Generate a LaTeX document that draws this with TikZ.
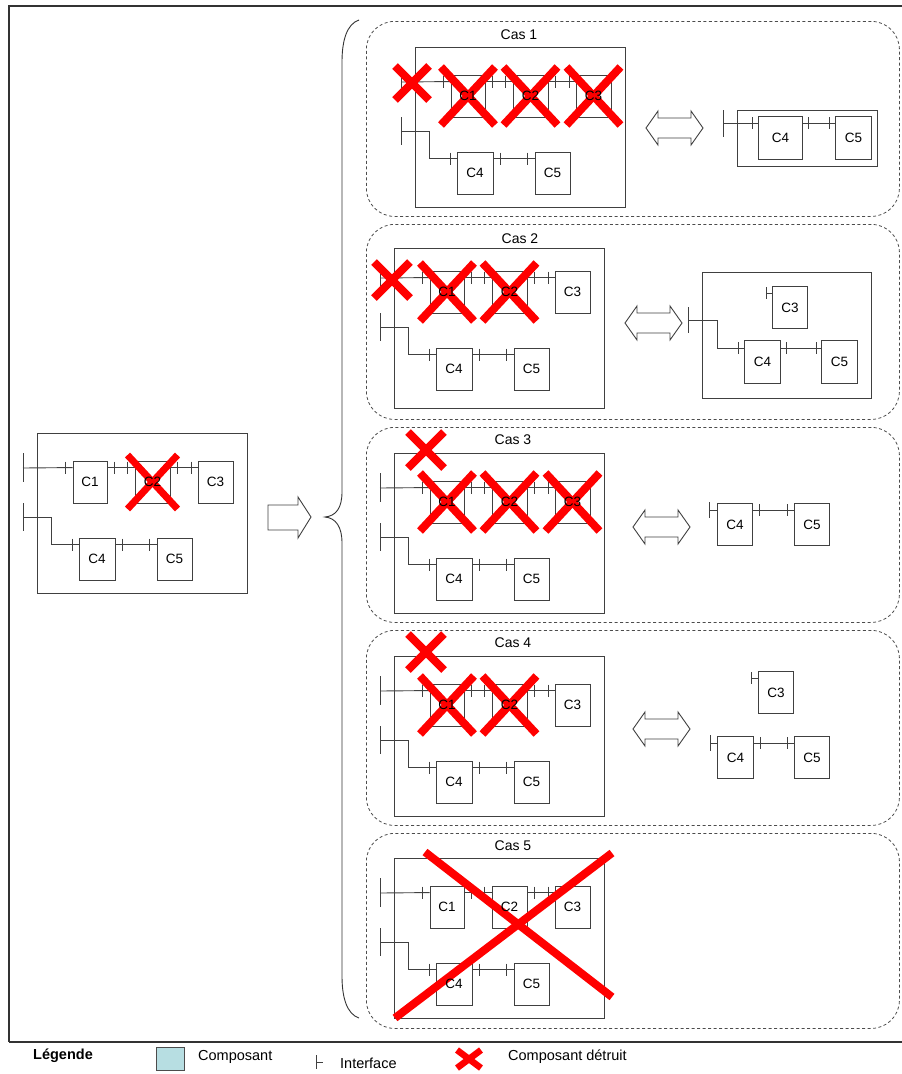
\documentclass[tikz,border=0pt]{standalone}
\usepackage{fontspec}
\setmainfont{Liberation Sans}
\pgfdeclarelayer{fg}
\pgfsetlayers{main,fg}
\definecolor{legcol}{HTML}{B7DEE2}
\definecolor{crossred}{HTML}{FF0000}
\tikzset{
  ln/.style={draw=black!75, line width=0.9pt},
  frame/.style={draw=black!75, line width=0.9pt, inner sep=0pt},
  comp/.style={draw=black!75, line width=0.9pt, inner sep=0pt, minimum height=42pt},
  txt/.style={inner sep=0pt, font=\fontsize{13.5}{16}\selectfont},
  castxt/.style={inner sep=0pt, font=\fontsize{14}{16}\selectfont},
  legtxt/.style={inner sep=0pt, anchor=west, font=\fontsize{14.5}{17}\selectfont},
  panel/.style={draw=black!70, line width=0.8pt, dash pattern=on 3pt off 2.5pt, rounded corners=28pt, inner sep=0pt, anchor=north west, minimum width=533pt, minimum height=195pt},
  redline/.style={draw=crossred, line width=#1},
  bigarrow/.style={draw=black!75, line width=0.9pt, fill=white}
}
\newcommand\tk[1]{\draw[ln] (#1) ++(0,-6) -- ++(0,12);}
% cross centred on a point: {point}{half width}{half height}{line width}
\newcommand\xc[4]{%
  \draw[redline=#4] (#1) ++(-#2,-#3) -- ++(2*#2,2*#3);
  \draw[redline=#4] (#1) ++(-#2,#3) -- ++(2*#2,-2*#3);}
\newcommand\module[4]{%
  \node[frame, minimum width=210pt, minimum height=160pt, anchor=north west] (#1f) at (#2,#3) {};
  \begin{scope}[shift={(#2,#3+#4)}]
    \node[comp, minimum width=34pt] (#1c1) at (53,49) {};
    \node[comp, minimum width=35pt] (#1c2) at (115.5,49) {};
    \node[comp, minimum width=35pt] (#1c3) at (178.5,49) {};
    \node[comp, minimum width=36pt] (#1c4) at (60,126) {};
    \node[comp, minimum width=35pt] (#1c5) at (137.5,126) {};
    \begin{pgfonlayer}{fg}
      \node[txt] (#1t1) at (#1c1) {C1};
      \node[txt] (#1t2) at (#1c2) {C2};
      \node[txt] (#1t3) at (#1c3) {C3};
      \node[txt] (#1t4) at (#1c4) {C4};
      \node[txt] (#1t5) at (#1c5) {C5};
    \end{pgfonlayer}
    \coordinate (#1b1) at (-14,35);
    \draw[ln] (#1b1) ++(0,-15) -- ++(0,29);
    \draw[ln] (#1b1) -- ([yshift=-7pt]#1c1.north west);
    \tk{[xshift=-7pt,yshift=-7pt]#1c1.north west}
    \draw[ln] ([yshift=-7pt]#1c1.north east) -- ([yshift=-7pt]#1c2.north west);
    \tk{[xshift=7pt,yshift=-7pt]#1c1.north east}
    \tk{[xshift=-7pt,yshift=-7pt]#1c2.north west}
    \draw[ln] ([yshift=-7pt]#1c2.north east) -- ([yshift=-7pt]#1c3.north west);
    \tk{[xshift=7pt,yshift=-7pt]#1c2.north east}
    \tk{[xshift=-6pt,yshift=-7pt]#1c3.north west}
    \coordinate (#1b2) at (-14,84);
    \draw[ln] (#1b2) ++(0,-14) -- ++(0,28);
    \draw[ln] (#1b2) -- ++(28,0) |- ([yshift=-7pt]#1c4.north west);
    \tk{[xshift=-6pt,yshift=-7pt]#1c4.north west}
    \draw[ln] ([yshift=-7pt]#1c4.north east) -- ([yshift=-7pt]#1c5.north west);
    \tk{[xshift=7pt,yshift=-7pt]#1c4.north east}
    \tk{[xshift=-7pt,yshift=-7pt]#1c5.north west}
  \end{scope}}
\newcommand\dbl[2]{%
  \begin{scope}[shift={(#1,#2)}]
    \draw[bigarrow] (-28.5,0) -- (-16.5,-17) -- (-16.5,-10) -- (16.5,-10) -- (16.5,-17) -- (28.5,0) -- (16.5,17) -- (16.5,10) -- (-16.5,10) -- (-16.5,17) -- cycle;
  \end{scope}}
\begin{document}
\begin{tikzpicture}[x=1pt,y=-1pt]
\useasboundingbox (0,0) rectangle (902,1074);
% outer frame
\draw[draw=black!80, line width=1.5pt] (902,6) -- (9,6) -- (9,1042);
\draw[draw=black!80, line width=1.5pt] (9,1042) -- (902,1042);

% left module
\module{m}{37}{433}{0}
\xc{mc2}{25}{27}{7pt}

% big arrow
\draw[bigarrow] (268,505) -- (298,505) -- (298,497) -- (311,517) -- (298,538) -- (298,530) -- (268,530) -- cycle;

% brace
\draw[draw=black!80, line width=0.9pt] (359,20) .. controls (347,24) and (342,40) .. (342,62) -- (342,492) .. controls (342,508) and (336,516) .. (325,517) .. controls (336,518) and (342,527) .. (342,543) -- (342,976) .. controls (342,998) and (347,1014) .. (359,1018);

% panels
\node[panel] (p1) at (366,21) {};
\node[panel] (p2) at (366,224) {};
\node[panel] (p3) at (366,427) {};
\node[panel] (p4) at (366,630) {};
\node[panel] (p5) at (366,833) {};
\node[castxt] (cas1) at (519,35) {Cas 1};
\node[castxt] (cas2) at (520,239) {Cas 2};
\node[castxt] (cas3) at (513,440) {Cas 3};
\node[castxt] (cas4) at (513,643) {Cas 4};
\node[castxt] (cas5) at (513,846) {Cas 5};

% Cas 1
\module{a}{415}{47}{0}
\coordinate (ax0) at (412,83);
\xc{ax0}{17}{17}{8pt}
\xc{ac1}{27}{29}{8pt}
\xc{ac2}{27}{29}{8pt}
\xc{ac3}{27}{29}{8pt}
\dbl{674.5}{128}
\node[frame, minimum width=140pt, minimum height=56pt, anchor=north west] (r1f) at (737,110) {};
\node[comp, minimum width=44pt, minimum height=43pt, anchor=north west] (r1c4) at (758,116) {};
\node[comp, minimum width=36pt, minimum height=43pt, anchor=north west] (r1c5) at (835,116) {};
\node[txt] (r1t4) at (r1c4) {C4};
\node[txt] (r1t5) at (r1c5) {C5};
\coordinate (r1b) at (723,123);
\draw[ln] (r1b) ++(0,-13) -- ++(0,27);
\draw[ln] (r1b) -- ([yshift=-7pt]r1c4.north west);
\tk{[xshift=-6pt,yshift=-7pt]r1c4.north west}
\draw[ln] ([yshift=-7pt]r1c4.north east) -- ([yshift=-7pt]r1c5.north west);
\tk{[xshift=6pt,yshift=-7pt]r1c4.north east}
\tk{[xshift=-6pt,yshift=-7pt]r1c5.north west}

% Cas 2
\module{b}{394}{248}{-5}
\coordinate (bx0) at (392,280);
\xc{bx0}{18}{18}{8pt}
\xc{bc1}{27}{29}{8pt}
\xc{bc2}{27}{29}{8pt}
\dbl{653.5}{323}
\node[frame, minimum width=169pt, minimum height=126pt, anchor=north west] (r2f) at (702,272) {};
\node[comp, minimum width=35pt, anchor=north west] (r2c3) at (772,286) {};
\node[comp, minimum width=36pt, minimum height=43pt, anchor=north west] (r2c4) at (744,340) {};
\node[comp, minimum width=36pt, minimum height=43pt, anchor=north west] (r2c5) at (821,340) {};
\node[txt] (r2t3) at (r2c3) {C3};
\node[txt] (r2t4) at (r2c4) {C4};
\node[txt] (r2t5) at (r2c5) {C5};
\draw[ln] ([xshift=-6pt,yshift=-7pt]r2c3.north west) -- ([yshift=-7pt]r2c3.north west);
\tk{[xshift=-6pt,yshift=-7pt]r2c3.north west}
\coordinate (r2b) at (688,320);
\draw[ln] (r2b) ++(0,-13) -- ++(0,26);
\draw[ln] (r2b) -- ++(29,0) |- ([yshift=-8pt]r2c4.north west);
\tk{[xshift=-6pt,yshift=-8pt]r2c4.north west}
\draw[ln] ([yshift=-8pt]r2c4.north east) -- ([yshift=-8pt]r2c5.north west);
\tk{[xshift=6pt,yshift=-8pt]r2c4.north east}
\tk{[xshift=-5pt,yshift=-8pt]r2c5.north west}

% Cas 3
\module{c}{394}{453}{0}
\coordinate (cx0) at (426,450);
\xc{cx0}{18}{18}{8pt}
\xc{cc1}{27}{29}{8pt}
\xc{cc2}{27}{29}{8pt}
\xc{cc3}{27}{29}{8pt}
\dbl{661.5}{527}
\node[comp, minimum width=35pt, anchor=north west] (r3c4) at (717,503) {};
\node[comp, minimum width=35pt, anchor=north west] (r3c5) at (794,503) {};
\node[txt] (r3t4) at (r3c4) {C4};
\node[txt] (r3t5) at (r3c5) {C5};
\coordinate (r3b) at (709,510);
\draw[ln] (r3b) ++(0,-8) -- ++(0,16);
\draw[ln] (r3b) -- ([yshift=-7pt]r3c4.north west);
\draw[ln] ([yshift=-7pt]r3c4.north east) -- ([yshift=-7pt]r3c5.north west);
\tk{[xshift=7pt,yshift=-7pt]r3c4.north east}
\tk{[xshift=-7pt,yshift=-7pt]r3c5.north west}

% Cas 4
\module{d}{394}{656}{0}
\coordinate (dx0) at (426,652);
\xc{dx0}{18}{18}{8pt}
\xc{dc1}{27}{29}{8pt}
\xc{dc2}{27}{29}{8pt}
\dbl{661.5}{729}
\node[comp, minimum width=35pt, anchor=north west] (r4c3) at (758,671) {};
\node[comp, minimum width=36pt, anchor=north west] (r4c4) at (717,736) {};
\node[comp, minimum width=35pt, anchor=north west] (r4c5) at (794,736) {};
\node[txt] (r4t3) at (r4c3) {C3};
\node[txt] (r4t4) at (r4c4) {C4};
\node[txt] (r4t5) at (r4c5) {C5};
\draw[ln] ([xshift=-7pt,yshift=-7pt]r4c3.north west) -- ([yshift=-7pt]r4c3.north west);
\tk{[xshift=-7pt,yshift=-7pt]r4c3.north west}
\coordinate (r4b) at (710,743);
\draw[ln] (r4b) ++(0,-8) -- ++(0,16);
\draw[ln] (r4b) -- ([yshift=-7pt]r4c4.north west);
\draw[ln] ([yshift=-7pt]r4c4.north east) -- ([yshift=-7pt]r4c5.north west);
\tk{[xshift=7pt,yshift=-7pt]r4c4.north east}
\tk{[xshift=-7pt,yshift=-7pt]r4c5.north west}

% Cas 5
\module{e}{394}{858}{0}
\draw[redline=8pt] (395,1018) -- (612,853);
\draw[redline=8pt] (425,852) -- (612,997);

% legend
\node[legtxt, font=\fontsize{14.5}{17}\selectfont\bfseries] (lg) at (33,1056) {Légende};
\node[draw=black!70, line width=0.9pt, fill=legcol, minimum width=28pt, minimum height=23pt, inner sep=0pt, anchor=north west] (lsq) at (156,1047) {};
\node[legtxt] (l1) at (198,1057) {Composant};
\coordinate (li) at (316,1062);
\draw[ln] (li) ++(0,-7) -- ++(0,14);
\draw[ln] (li) -- ++(7,0);
\node[legtxt] (l2) at (340,1063) {Interface};
\coordinate (lx) at (469,1059);
\xc{lx}{12}{9}{6.5pt}
\node[legtxt] (l3) at (508,1057) {Composant détruit};
\end{tikzpicture}
\end{document}
